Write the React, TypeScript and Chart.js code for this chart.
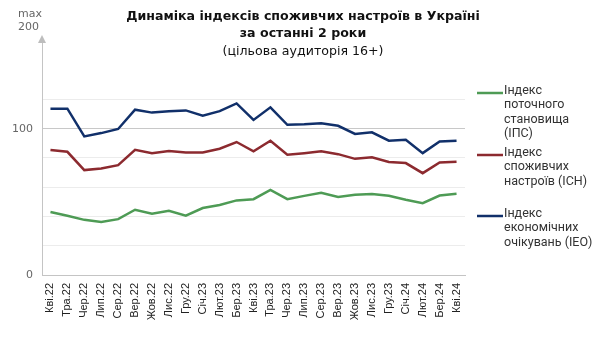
import React, { useEffect, useRef } from "react";
import { Chart, registerables } from "chart.js";

Chart.register(...registerables);

const months = ["Кві.22","Тра.22","Чер.22","Лип.22","Сер.22","Вер.22","Жов.22","Лис.22","Гру.22","Січ.23","Лют.23","Бер.23","Кві.23","Тра.23","Чер.23","Лип.23","Сер.23","Вер.23","Жов.23","Лис.23","Гру.23","Січ.24","Лют.24","Бер.24","Кві.24"];
const ips = [43.0,40.5,37.7,36.3,38.2,44.6,41.9,43.9,40.5,45.8,47.8,51.0,51.8,58.2,51.8,54.1,56.2,53.4,54.8,55.3,54.1,51.4,49.1,54.3,55.5];
const ich = [85.4,84.2,71.7,72.8,75.1,85.6,83.3,84.7,83.8,83.8,86.3,90.9,84.5,91.8,82.2,83.3,84.5,82.6,79.4,80.4,77.2,76.5,69.6,76.9,77.4];
const ieo = [113.7,113.7,94.7,97.0,99.8,113.0,111.0,112.0,112.5,108.9,112.0,117.3,106.0,114.6,102.7,103.0,103.7,102.0,96.4,97.5,91.8,92.5,83.3,91.3,91.8];
const yTicks = [0, 20, 40, 60, 80, 100, 120];
const yLabeled = [0, 100];
const titleLines = ["Динаміка індексів споживчих настроїв в Україні", "за останні 2 роки", "(цільова аудиторія 16+)"];
const legendItems = [
  { lines: ["Індекс", "поточного", "становища", "(ІПС)"], color: "#4e9b55" },
  { lines: ["Індекс", "споживчих", "настроїв (ІСН)"], color: "#8c2a2f" },
  { lines: ["Індекс", "економічних", "очікувань (ІЕО)"], color: "#11306a" },
];
const legendY = [93, 155, 216];

const decor = {
  id: "decor",
  afterDraw(chart: any) {
    const ctx = chart.ctx;
    const area = chart.chartArea;
    ctx.save();
    // arrow head
    ctx.fillStyle = "#bdbdbd";
    ctx.beginPath();
    ctx.moveTo(area.left, area.top - 3);
    ctx.lineTo(area.left - 4, area.top + 5);
    ctx.lineTo(area.left + 4, area.top + 5);
    ctx.closePath();
    ctx.fill();
    // max 200
    ctx.fillStyle = "#666";
    ctx.font = "11px 'DejaVu Sans'";
    ctx.textAlign = "left";
    ctx.textBaseline = "middle";
    ctx.fillText("max", 18, 14);
    ctx.fillText("200", 18, 27);
    // title
    ctx.fillStyle = "#111";
    ctx.textAlign = "center";
    ctx.font = "bold 12.6px 'DejaVu Sans'";
    ctx.fillText(titleLines[0], 303, 17);
    ctx.fillText(titleLines[1], 303, 34);
    ctx.font = "12.6px 'DejaVu Sans'";
    ctx.fillText(titleLines[2], 303, 52);
    // legend
    ctx.textAlign = "left";
    ctx.font = "12.5px Roboto";
    legendItems.forEach((it, i) => {
      const y0 = legendY[i];
      ctx.strokeStyle = it.color;
      ctx.lineWidth = 2.5;
      ctx.beginPath();
      ctx.moveTo(477, y0);
      ctx.lineTo(503, y0);
      ctx.stroke();
      ctx.fillStyle = "#333";
      it.lines.forEach((t, j) => ctx.fillText(t, 504, y0 - 2.5 + j * 14.5));
    });
    ctx.restore();
  },
};

export default function App() {
  const ref = useRef<HTMLCanvasElement>(null);
  useEffect(() => {
    const mk = (label: string, data: number[], color: string) => ({
      label, data, borderColor: color, backgroundColor: color, borderWidth: 2.5,
      pointRadius: 0, tension: 0, fill: false,
    });
    const chart = new Chart(ref.current!, {
      type: "line",
      data: {
        labels: months,
        datasets: [
          mk("Індекс поточного становища (ІПС)", ips, legendItems[0].color),
          mk("Індекс споживчих настроїв (ІСН)", ich, legendItems[1].color),
          mk("Індекс економічних очікувань (ІЕО)", ieo, legendItems[2].color),
        ],
      },
      options: {
        animation: false,
        responsive: false,
        maintainAspectRatio: false,
        layout: { padding: { left: 0, right: 130, top: 38, bottom: 0 } },
        plugins: { legend: { display: false }, title: { display: false }, tooltip: { enabled: false } },
        scales: {
          x: {
            offset: true,
            grid: { display: false, drawTicks: false },
            border: { color: "#c4c4c4", width: 1 },
            ticks: { autoSkip: false, maxRotation: 90, minRotation: 90, padding: 8, color: "#222", font: { size: 11, family: "'Liberation Sans'" } },
            afterFit: (s: any) => { s.height = 64; },
          },
          y: {
            min: 0,
            max: 162,
            afterBuildTicks: (s: any) => { s.ticks = yTicks.map((v) => ({ value: v })); },
            afterFit: (s: any) => { s.width = 42; },
            grid: {
              drawTicks: false,
              color: (c: any) => (c.tick && c.tick.value === 100 ? "#c8c8c8" : c.tick && c.tick.value === 0 ? "rgba(0,0,0,0)" : "#ececec"),
            },
            border: { color: "#c4c4c4", width: 1 },
            ticks: {
              padding: 9,
              color: "#666",
              font: { size: 11, family: "'DejaVu Sans'" },
              callback: (v: any) => (yLabeled.includes(Number(v)) ? String(v) : ""),
            },
          },
        },
      },
      plugins: [decor],
    });
    return () => chart.destroy();
  }, []);
  return (
    <div style={{ position: "fixed", left: 0, top: 0, width: 595, height: 339, background: "#fff" }}>
      <canvas ref={ref} width={595} height={339} style={{ width: 595, height: 339 }} />
    </div>
  );
}
